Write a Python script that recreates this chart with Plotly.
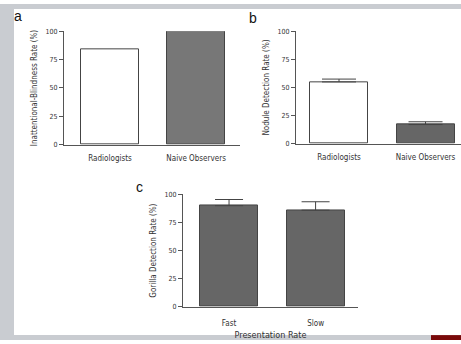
import plotly.graph_objects as go

W, H = 461, 344

# Data
cats_ab = ["Radiologists", "Naive Observers"]
blind_rate = [84, 100]
nodule_rate = [55, 17]
nodule_err = [2.5, 2.5]
cats_c = ["Fast", "Slow"]
gorilla_rate = [90, 86]
gorilla_err = [5.5, 7.5]
yticks = [0, 25, 50, 75, 100]

FONT = "Liberation Sans Narrow, DejaVu Sans Condensed, Arial Narrow, sans-serif"
AX = "#555555"
EDGE = "#444444"
TXT = "#333333"

fig = go.Figure()

fig.add_trace(go.Bar(x=[0, 1], y=blind_rate, width=0.67,
                     marker=dict(color=["white", "#777777"], line=dict(color=EDGE, width=1)),
                     xaxis="x", yaxis="y", showlegend=False))
fig.add_trace(go.Bar(x=[0, 1], y=nodule_rate, width=0.67,
                     marker=dict(color=["white", "#666666"], line=dict(color=EDGE, width=1)),
                     error_y=dict(type="data", array=nodule_err, arrayminus=[0, 0], symmetric=False,
                                  color=EDGE, thickness=1, width=17),
                     xaxis="x2", yaxis="y2", showlegend=False))
fig.add_trace(go.Bar(x=[0, 1], y=gorilla_rate, width=0.67,
                     marker=dict(color=["#666666", "#666666"], line=dict(color=EDGE, width=1)),
                     error_y=dict(type="data", array=gorilla_err, arrayminus=[0, 0], symmetric=False,
                                  color=EDGE, thickness=1, width=14),
                     xaxis="x3", yaxis="y3", showlegend=False))

def yax(domain, anchor, title):
    return dict(domain=domain, anchor=anchor, range=[0, 100], tickvals=yticks,
                ticks="outside", ticklen=4, tickcolor=AX, showline=True, linecolor=AX,
                linewidth=1, showgrid=False, zeroline=False,
                tickfont=dict(family=FONT, size=7, color=TXT),
                title=dict(text=title, font=dict(family=FONT, size=8, color=TXT), standoff=6))

def xax(domain, anchor, rng, labels, title=None, standoff=6):
    d = dict(domain=domain, anchor=anchor, range=rng, tickvals=[0, 1], ticktext=labels,
             ticks="", showline=True, linecolor=AX, linewidth=1, showgrid=False,
             zeroline=False, ticklabelstandoff=standoff,
             tickfont=dict(family=FONT, size=8, color=TXT))
    if title:
        d["title"] = dict(text=title, font=dict(family=FONT, size=9, color=TXT), standoff=4)
    return d

fig.update_layout(
    width=W, height=H, margin=dict(l=0, r=0, t=0, b=0),
    paper_bgcolor="white", plot_bgcolor="rgba(0,0,0,0)",
    bargap=0,
    xaxis=xax([64 / W, 240 / W], "y", [-0.535, 1.51], cats_ab),
    yaxis=yax([1 - 144 / H, 1 - 28 / H], "x", "Inattentional-Blindness Rate (%)"),
    xaxis2=xax([296 / W, 1.0], "y2", [-0.497, 1.41], cats_ab),
    yaxis2=yax([1 - 143 / H, 1 - 28 / H], "x2", "Nodule Detection Rate (%)"),
    xaxis3=xax([183 / W, 358 / W], "y3", [-0.532, 1.49], cats_c, "Presentation Rate", standoff=9),
    yaxis3=yax([1 - 310 / H, 1 - 195 / H], "x3", "Gorilla Detection Rate (%)"),
)

# page frame
bg = "#c9ccd1"
fig.add_shape(type="rect", xref="paper", yref="paper", x0=0, x1=1, y0=1 - 5 / H, y1=1,
              fillcolor=bg, line_width=0, layer="below")
fig.add_shape(type="rect", xref="paper", yref="paper", x0=0, x1=14 / W, y0=0, y1=1,
              fillcolor=bg, line_width=0, layer="below")
fig.add_shape(type="rect", xref="paper", yref="paper", x0=0, x1=1, y0=0, y1=5 / H,
              fillcolor=bg, line_width=0, layer="below")
fig.add_shape(type="rect", xref="paper", yref="paper", x0=431 / W, x1=1, y0=0, y1=5 / H,
              fillcolor="#7a0a0a", line_width=0, layer="below")

for txt, x, y in [("a", 18, 12), ("b", 253, 14), ("c", 139, 187)]:
    fig.add_annotation(text=txt, x=x / W, y=1 - y / H, xref="paper", yref="paper",
                       showarrow=False, xanchor="center", yanchor="middle",
                       font=dict(family="Liberation Sans Narrow, Arial Narrow, sans-serif", size=14, color="#111"))

fig.write_html("out.html")
